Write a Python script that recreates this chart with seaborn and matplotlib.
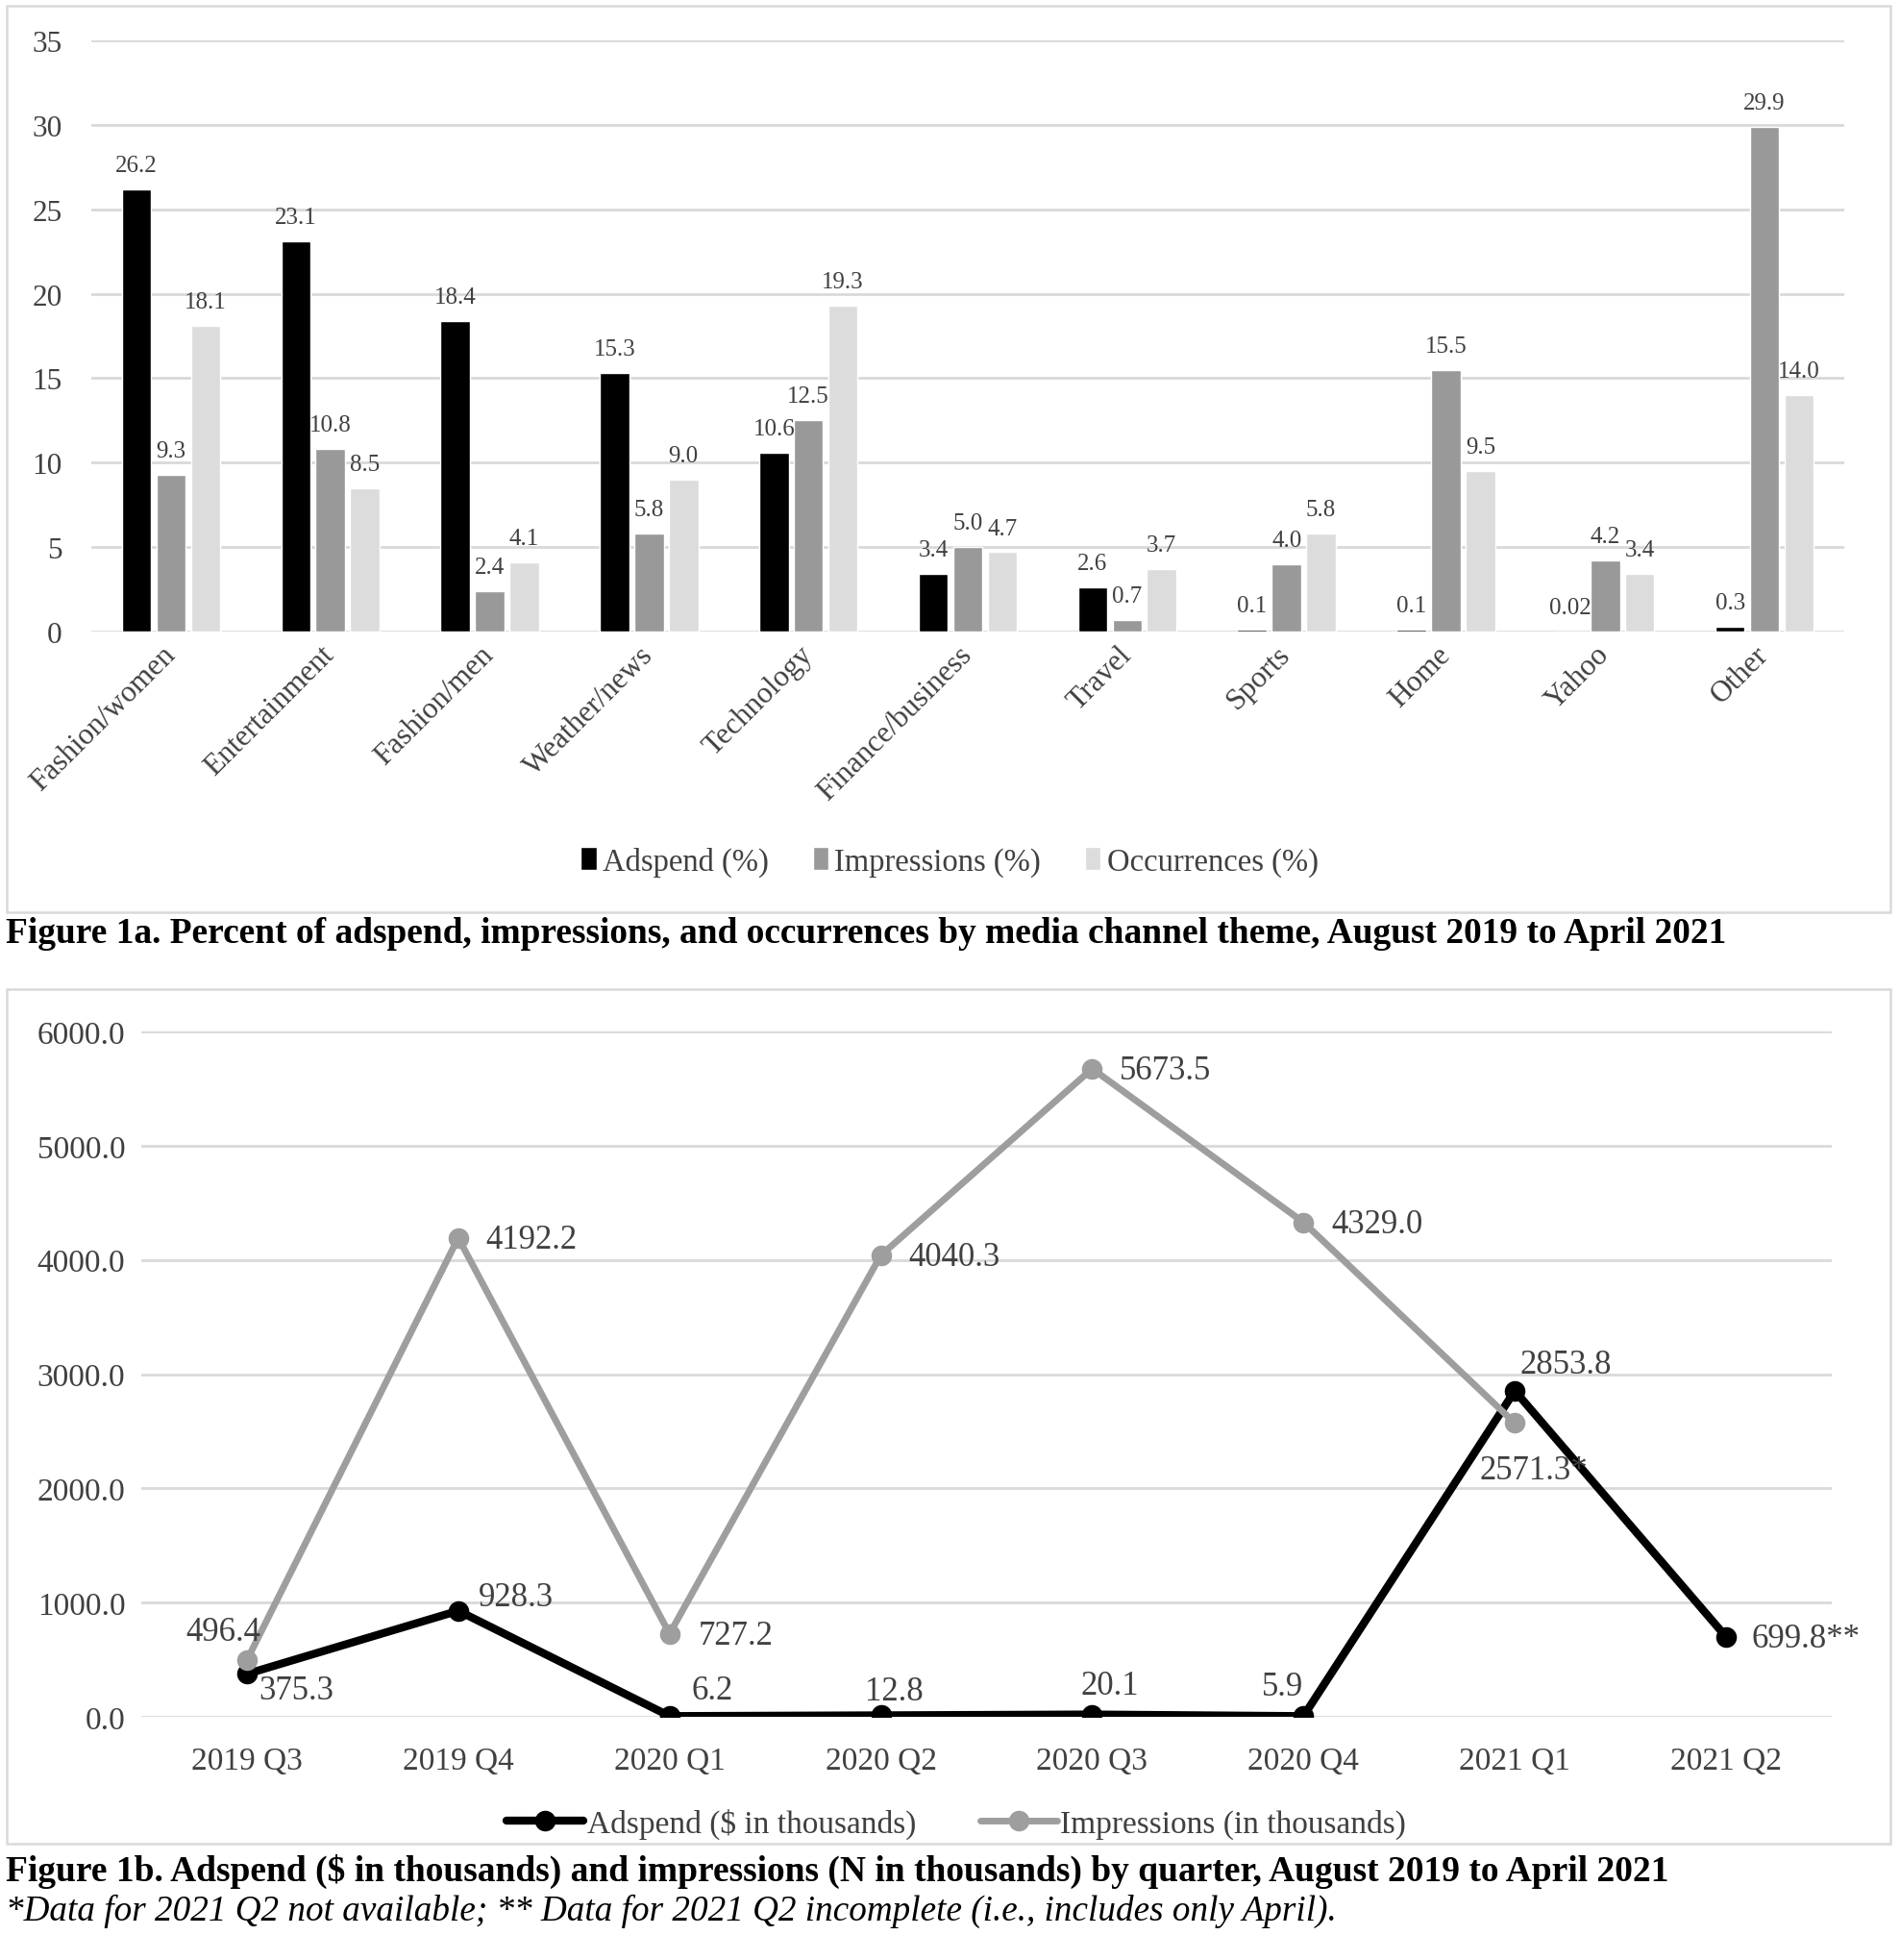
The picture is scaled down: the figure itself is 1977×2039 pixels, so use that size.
import numpy as np
import pandas as pd
import seaborn as sns
import matplotlib.pyplot as plt
from matplotlib.patches import Rectangle

# Figure 1a data
themes = ["Fashion/women", "Entertainment", "Fashion/men", "Weather/news", "Technology",
          "Finance/business", "Travel", "Sports", "Home", "Yahoo", "Other"]
adspend_pct = [26.2, 23.1, 18.4, 15.3, 10.6, 3.4, 2.6, 0.1, 0.1, 0.02, 0.3]
impressions_pct = [9.3, 10.8, 2.4, 5.8, 12.5, 5.0, 0.7, 4.0, 15.5, 4.2, 29.9]
occurrences_pct = [18.1, 8.5, 4.1, 9.0, 19.3, 4.7, 3.7, 5.8, 9.5, 3.4, 14.0]
bar_series = ["Adspend (%)", "Impressions (%)", "Occurrences (%)"]

# Figure 1b data
quarters = ["2019 Q3", "2019 Q4", "2020 Q1", "2020 Q2", "2020 Q3", "2020 Q4", "2021 Q1", "2021 Q2"]
adspend_k = [375.3, 928.3, 6.2, 12.8, 20.1, 5.9, 2853.8, 699.8]
impressions_k = [496.4, 4192.2, 727.2, 4040.3, 5673.5, 4329.0, 2571.3, np.nan]
adspend_lbl = ["375.3", "928.3", "6.2", "12.8", "20.1", "5.9", "2853.8", "699.8**"]
impressions_lbl = ["496.4", "4192.2", "727.2", "4040.3", "5673.5", "4329.0", "2571.3*", ""]

sns.set_theme(style="white")
plt.rcParams['font.family'] = ['Liberation Serif', 'DejaVu Serif']
txt = '#404040'

fig = plt.figure(figsize=(19.77, 20.40), dpi=100)
W, H = 1977, 2040

def fx(px):
    return px / W

def fy(py):
    return 1 - py / H

# panel frames
for y0, y1 in [(7, 950), (1030, 1919)]:
    fig.patches.append(Rectangle((fx(7), fy(y1)), fx(1967) - fx(7), fy(y0) - fy(y1),
                                 transform=fig.transFigure, fill=False,
                                 edgecolor='#d9d9d9', lw=1.8))

# ---- Figure 1a: grouped bars
df_bar = pd.DataFrame({
    'theme': themes * 3,
    'series': [bar_series[0]] * 11 + [bar_series[1]] * 11 + [bar_series[2]] * 11,
    'value': adspend_pct + impressions_pct + occurrences_pct,
})
ax1 = fig.add_axes([fx(95), fy(658), fx(1919) - fx(95), fy(43) - fy(658)])
sns.barplot(data=df_bar, x='theme', y='value', hue='series',
            palette=['#000000', '#999999', '#dcdcdc'], width=0.65, gap=0.15,
            ax=ax1, legend=True, saturation=1)
ax1.set_ylim(0, 35)
ax1.set_xlim(-0.5, 10.5)
ax1.set_yticks(range(0, 36, 5))
ax1.yaxis.grid(True, color='#d9d9d9', lw=2)
ax1.set_axisbelow(True)
for s in ax1.spines.values():
    s.set_visible(False)
ax1.set_xlabel('')
ax1.set_ylabel('')
ax1.tick_params(axis='y', labelsize=22.5, labelcolor=txt, pad=22, length=0)
ax1.tick_params(axis='x', labelsize=22.5, labelcolor=txt, pad=14, length=0)
plt.setp(ax1.get_xticklabels(), rotation=45, ha='right', rotation_mode='anchor', va='center')
for cont in ax1.containers:
    labs = [f"{v:.2f}" if v < 0.05 else f"{v:.1f}" for v in cont.datavalues]
    ax1.bar_label(cont, labels=labs, padding=10, fontsize=18, color=txt)
ax1.legend(loc='center', bbox_to_anchor=(fx(988), fy(897)), bbox_transform=fig.transFigure,
           ncol=3, frameon=False, fontsize=23.5, handlelength=0.5, handleheight=0.75,
           handletextpad=0.2, columnspacing=1.4, labelcolor=txt)

fig.text(fx(6), fy(972), "Figure 1a. Percent of adspend, impressions, and occurrences by media channel theme, August 2019 to April 2021",
         fontsize=26.9, weight='bold', ha='left', va='center', color='black')

# ---- Figure 1b: lines
df_line = pd.DataFrame({'quarter': quarters, 'adspend': adspend_k, 'impressions': impressions_k})
ax2 = fig.add_axes([fx(147), fy(1787), fx(1906) - fx(147), fy(1074) - fy(1787)])
sns.lineplot(data=df_line, x='quarter', y='adspend', color='black', lw=6, marker='o',
             markersize=15.5, markeredgewidth=0, sort=False, ax=ax2, label='Adspend ($ in thousands)')
sns.lineplot(data=df_line.dropna(), x='quarter', y='impressions', color='#9e9e9e', lw=5, marker='o',
             markersize=15.5, markeredgewidth=0, sort=False, ax=ax2, label='Impressions (in thousands)')
ax2.set_ylim(0, 6000)
ax2.set_xlim(-0.5, 7.5)
ax2.set_yticks(range(0, 6001, 1000))
ax2.set_yticklabels([f"{v:.1f}" for v in range(0, 6001, 1000)])
ax2.yaxis.grid(True, color='#d9d9d9', lw=2)
ax2.set_axisbelow(True)
for s in ax2.spines.values():
    s.set_visible(False)
ax2.set_xlabel('')
ax2.set_ylabel('')
ax2.tick_params(axis='both', labelsize=24, labelcolor=txt, length=0)
ax2.tick_params(axis='y', pad=12)
ax2.tick_params(axis='x', pad=22)

imp_off = [(-18, 21), (55, -1.5), (50, -1.5), (55, -1), (55, -1.5), (55, -1.5), (14, -35), (0, 0)]
ad_off = [(37, -12.5), (43, 10), (32, 19.5), (10, 18), (13, 22), (-16, 22), (38, 19.5), (60, -1)]
for i, q in enumerate(quarters):
    if impressions_lbl[i]:
        ax2.annotate(impressions_lbl[i], (i, impressions_k[i]), xytext=imp_off[i],
                     textcoords='offset points', ha='center', va='center', fontsize=25, color=txt)
    ax2.annotate(adspend_lbl[i], (i, adspend_k[i]), xytext=ad_off[i],
                 textcoords='offset points', ha='center', va='center', fontsize=25, color=txt)

ax2.legend(loc='center', bbox_to_anchor=(fx(995), fy(1898)), bbox_transform=fig.transFigure,
           ncol=2, frameon=False, fontsize=24, handlelength=2.4, handletextpad=0.1,
           columnspacing=2.0, labelcolor=txt)

fig.text(fx(6), fy(1947), "Figure 1b. Adspend ($ in thousands) and impressions (N in thousands) by quarter, August 2019 to April 2021",
         fontsize=27, weight='bold', ha='left', va='center', color='black')
fig.text(fx(6), fy(1988), "*Data for 2021 Q2 not available; ** Data for 2021 Q2 incomplete (i.e., includes only April).",
         fontsize=26.7, style='italic', ha='left', va='center', color='black')

fig.savefig('out.png', dpi=100)
